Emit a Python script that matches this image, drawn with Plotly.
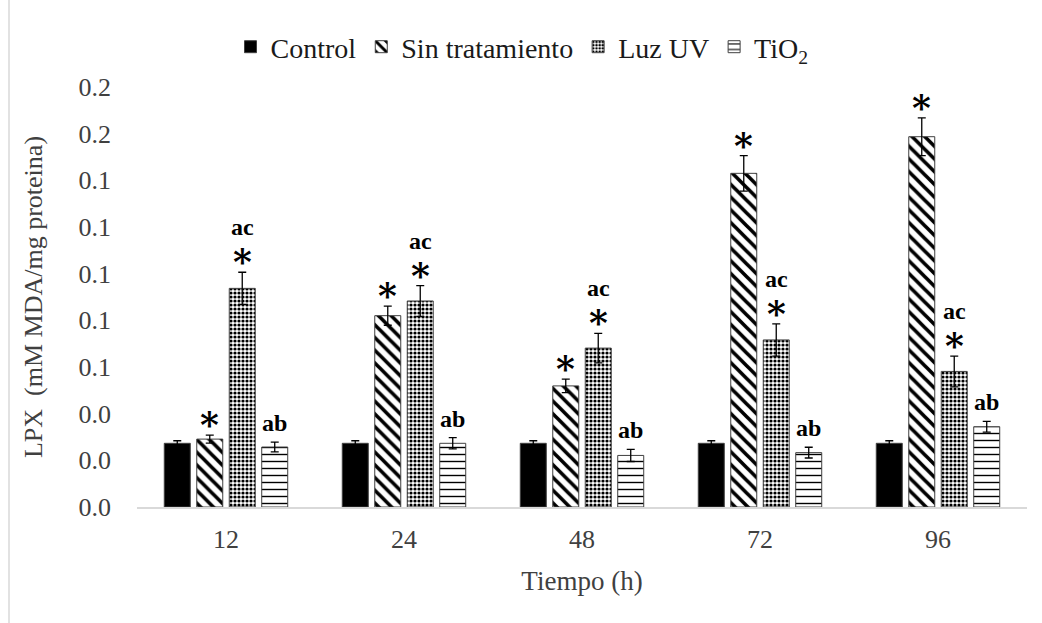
import plotly.graph_objects as go

# ---------------- data ----------------
categories = ["12", "24", "48", "72", "96"]
series_names = ["Control", "Sin tratamiento", "Luz UV", "TiO<sub>2</sub>"]

control = [0.0273, 0.0273, 0.0273, 0.0273, 0.0273]
control_err = [0.0011, 0.0011, 0.0011, 0.0011, 0.0011]
sin_trat = [0.0291, 0.0820, 0.0519, 0.1430, 0.1587]
sin_trat_err = [0.0017, 0.0041, 0.0029, 0.0076, 0.0081]
luz_uv = [0.0937, 0.0883, 0.0681, 0.0716, 0.0581]
luz_uv_err = [0.0069, 0.0066, 0.0063, 0.0069, 0.0066]
tio2 = [0.0257, 0.0273, 0.0221, 0.0233, 0.0344]
tio2_err = [0.0021, 0.0024, 0.0026, 0.0023, 0.0023]

sin_marks = ["*", "*", "*", "*", "*"]
luz_marks = ["*", "*", "*", "*", "*"]
luz_letters = ["ac", "ac", "ac", "ac", "ac"]
tio2_letters = ["ab", "ab", "ab", "ab", "ab"]

tick_vals = [0.0, 0.02, 0.04, 0.06, 0.08, 0.10, 0.12, 0.14, 0.16, 0.18]
tick_labels = ["0.0", "0.0", "0.0", "0.1", "0.1", "0.1", "0.1", "0.1", "0.2", "0.2"]

# ---------------- layout geometry ----------------
W, H = 1042, 623
ML, MR, MT, MB = 137, 15, 87, 116
BARGAP = 0.27
GROUPGAP = 0.2
plot_w = W - ML - MR
plot_h = H - MT - MB
cat_w = plot_w / len(categories)
slot = cat_w * (1 - BARGAP) / 4
offsets = [(-1.5 + i) * slot for i in range(4)]

SERIF = "Liberation Serif"
TXT = "#404040"
OUTLINE = dict(color="#404040", width=1)

fig = go.Figure()

def add_bar(name, vals, errs, pattern, color):
    fig.add_trace(go.Bar(
        x=categories, y=vals, name=name,
        marker=dict(color=color, line=OUTLINE, pattern=pattern),
        error_y=dict(type="data", array=errs, visible=True,
                     color="black", thickness=1.3, width=4),
    ))

add_bar(series_names[0], control, control_err, dict(shape=""), "black")
add_bar(series_names[1], sin_trat, sin_trat_err,
        dict(shape="\\", size=9, solidity=0.4, fgcolor="black", bgcolor="white", fillmode="replace"), "white")
add_bar(series_names[2], luz_uv, luz_uv_err,
        dict(shape=".", size=4, solidity=0.5, fgcolor="black", bgcolor="white", fillmode="replace"), "white")
add_bar(series_names[3], tio2, tio2_err,
        dict(shape="-", size=7, solidity=0.2, fgcolor="black", bgcolor="white", fillmode="replace"), "white")

annotations = []
STAR_FONT = dict(family="DejaVu Serif", size=36, color="black")
LET_FONT = dict(family=SERIF, size=24, color="black")

for i, c in enumerate(categories):
    annotations.append(dict(x=i, y=sin_trat[i] + sin_trat_err[i], xref="x", yref="y",
                            text="<b>%s</b>" % sin_marks[i], showarrow=False, font=STAR_FONT,
                            xshift=offsets[1], yanchor="middle", yshift=11))
    annotations.append(dict(x=i, y=luz_uv[i] + luz_uv_err[i], xref="x", yref="y",
                            text="<b>%s</b>" % luz_marks[i], showarrow=False, font=STAR_FONT,
                            xshift=offsets[2], yanchor="middle", yshift=11))
    annotations.append(dict(x=i, y=luz_uv[i] + luz_uv_err[i], xref="x", yref="y",
                            text="<b>%s</b>" % luz_letters[i], showarrow=False, font=LET_FONT,
                            xshift=offsets[2], yanchor="middle", yshift=45))
    annotations.append(dict(x=i, y=tio2[i] + tio2_err[i], xref="x", yref="y",
                            text="<b>%s</b>" % tio2_letters[i], showarrow=False, font=LET_FONT,
                            xshift=offsets[3], yanchor="middle", yshift=19))

fig.update_layout(
    width=W, height=H,
    margin=dict(l=ML, r=MR, t=MT, b=MB, autoexpand=False),
    paper_bgcolor="white", plot_bgcolor="white",
    barmode="group", bargap=BARGAP, bargroupgap=GROUPGAP,
    font=dict(family=SERIF, size=26, color=TXT),
    showlegend=True,
    legend=dict(orientation="h", x=(522 - ML) / plot_w, xanchor="center",
                y=1 + 40 / plot_h, yanchor="middle",
                font=dict(family=SERIF, size=28, color="#1a1a1a"),
                itemwidth=30, tracegroupgap=0, bgcolor="rgba(0,0,0,0)"),
    annotations=annotations,
    shapes=[dict(type="line", xref="paper", yref="paper",
                 x0=(9 - ML) / plot_w, x1=(9 - ML) / plot_w,
                 y0=-MB / plot_h, y1=1 + MT / plot_h,
                 line=dict(color="#d9d9d9", width=1.5))],
)

fig.update_xaxes(
    type="category", range=[-0.5, len(categories) - 0.5],
    showgrid=False, showline=True, linecolor="#d9d9d9", linewidth=1.5,
    ticks="", ticklabelstandoff=8,
    tickfont=dict(family=SERIF, size=26, color=TXT),
    title=dict(text="Tiempo (h)", standoff=18, font=dict(family=SERIF, size=27, color=TXT)),
)
fig.update_yaxes(
    range=[0, 0.18], tickvals=tick_vals, ticktext=tick_labels,
    showgrid=False, showline=False, zeroline=False, ticks="",
    ticklabelstandoff=25,
    tickfont=dict(family=SERIF, size=26, color=TXT),
    title=dict(text="LPX  (mM MDA/mg proteina)", standoff=28,
               font=dict(family=SERIF, size=26, color=TXT)),
)

fig.write_html("out.html")
